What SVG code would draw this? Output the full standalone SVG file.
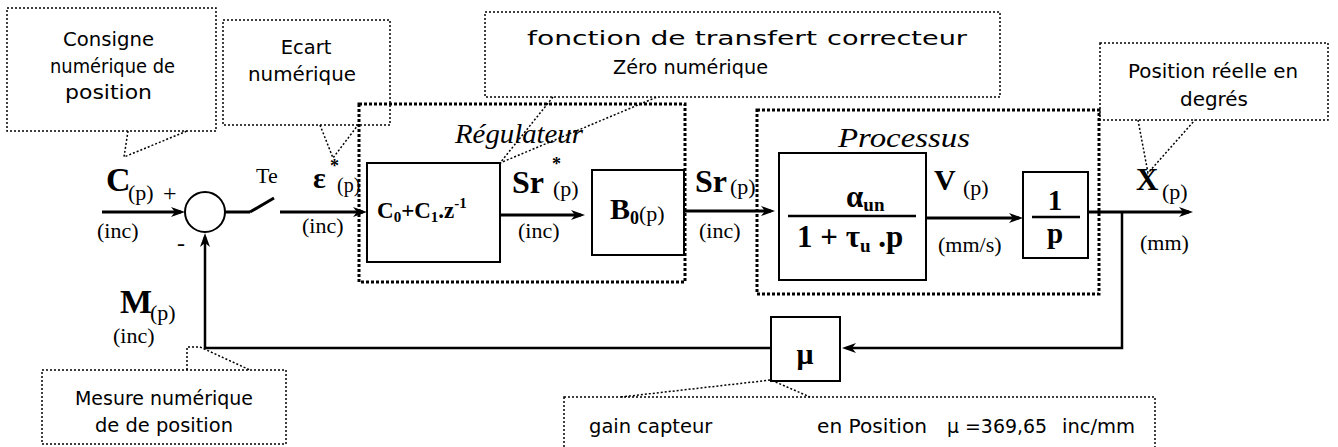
<svg xmlns="http://www.w3.org/2000/svg" width="1338" height="447" viewBox="0 0 1338 447">
<style>
.cb{fill:none;stroke:#000;stroke-width:1.5;stroke-dasharray:2 2}
.grp{fill:none;stroke:#000;stroke-width:3;stroke-dasharray:3 2}
.blk{fill:#fff;stroke:#000;stroke-width:2}
.ln{fill:none;stroke:#000;stroke-width:3}
.fb{fill:none;stroke:#000;stroke-width:2.5}
.ct{font-family:"DejaVu Sans",sans-serif;font-size:19.5px;fill:#000}
.t{font-family:"Liberation Serif",serif;fill:#000}
.b{font-weight:bold}
.i{font-style:italic}
</style>
<defs>
<marker id="ah" viewBox="0 0 14 10" refX="10" refY="5" markerWidth="14" markerHeight="10" markerUnits="userSpaceOnUse" orient="auto">
<path d="M0,0 L14,5 L0,10 L4,5 Z" fill="#000"/>
</marker>
</defs>

<g id="regulateur-group">
<rect class="grp" x="359" y="104" width="326" height="178"/>
<text class="t i" x="455" y="143" font-size="27" textLength="128" lengthAdjust="spacingAndGlyphs">Régulateur</text>
</g>
<g id="processus-group">
<rect class="grp" x="757" y="110" width="342" height="184"/>
<text class="t i" x="838" y="147" font-size="27" textLength="132" lengthAdjust="spacingAndGlyphs">Processus</text>
</g>

<g id="connectors">
<line class="ln" x1="102" y1="212" x2="181" y2="212" marker-end="url(#ah)"/>
<line class="ln" x1="225" y1="212" x2="250" y2="212"/>
<line class="ln" x1="250" y1="212" x2="274" y2="198"/>
<line class="ln" x1="280" y1="212" x2="363" y2="212" marker-end="url(#ah)"/>
<line class="ln" x1="500" y1="215" x2="581" y2="215" marker-end="url(#ah)"/>
<line class="ln" x1="684" y1="211" x2="771" y2="211" marker-end="url(#ah)"/>
<line class="ln" x1="926" y1="218" x2="1019" y2="218" marker-end="url(#ah)"/>
<line class="ln" x1="1088" y1="212" x2="1189" y2="212" marker-end="url(#ah)"/>
<polyline class="fb" points="1122,212 1122,348 846,348" marker-end="url(#ah)"/>
<polyline class="fb" points="771,348 205,348 205,237" marker-end="url(#ah)"/>
</g>

<g id="sum">
<circle cx="205" cy="212" r="20" fill="#fff" stroke="#000" stroke-width="2"/>
<text class="t" x="163" y="201" font-size="24">+</text>
<text class="t" x="177" y="251" font-size="24">-</text>
</g>

<g id="labels">
<text class="t b" x="106" y="191" font-size="34">C</text>
<text class="t" x="128" y="200" font-size="22">(p)</text>
<text class="t" x="97" y="238" font-size="22">(inc)</text>
<text class="t" x="256" y="183" font-size="22">Te</text>
<text class="t b" x="313" y="188" font-size="30">ε</text>
<text class="t b" x="330" y="172" font-size="18">*</text>
<text class="t" x="337" y="192" font-size="20">(p)</text>
<text class="t" x="302" y="233" font-size="22">(inc)</text>
<text class="t b" x="512" y="193" font-size="32">Sr</text>
<text class="t b" x="552" y="170" font-size="18">*</text>
<text class="t" x="553" y="196" font-size="22">(p)</text>
<text class="t" x="518" y="238" font-size="22">(inc)</text>
<text class="t b" x="695" y="192" font-size="32">Sr</text>
<text class="t" x="730" y="194" font-size="22">(p)</text>
<text class="t" x="699" y="238" font-size="22">(inc)</text>
<text class="t b" x="934" y="190" font-size="30">V</text>
<text class="t" x="963" y="195" font-size="22">(p)</text>
<text class="t" x="938" y="252" font-size="22">(mm/s)</text>
<text class="t b" x="1136" y="190" font-size="31">X</text>
<text class="t" x="1162" y="199" font-size="22">(p)</text>
<text class="t" x="1140" y="250" font-size="22">(mm)</text>
<text class="t b" x="120" y="313" font-size="34">M</text>
<text class="t" x="150" y="320" font-size="22">(p)</text>
<text class="t" x="113" y="343" font-size="22">(inc)</text>
</g>

<g id="correcteur">
<rect class="blk" x="367" y="163" width="133" height="99"/>
<text class="t b" x="377" y="218" font-size="23">C<tspan font-size="15" dy="4">0</tspan><tspan dy="-4">+C</tspan><tspan font-size="15" dy="4">1</tspan><tspan dy="-4">.z</tspan><tspan font-size="15" dy="-10">-1</tspan></text>
</g>

<g id="bloqueur">
<rect class="blk" x="592" y="170" width="92" height="85"/>
<text class="t b" x="610" y="219" font-size="30">B<tspan font-size="18" dy="5">0</tspan><tspan font-weight="normal" font-size="22" dy="-3">(p)</tspan></text>
</g>

<g id="moteur">
<rect class="blk" x="779" y="153" width="147" height="127"/>
<line x1="788" y1="216" x2="916" y2="216" stroke="#000" stroke-width="2.5"/>
<text class="t b" x="846" y="207" font-size="31">α<tspan font-size="19" dy="4">un</tspan></text>
<text class="t b" x="797" y="247" font-size="31">1 + τ<tspan font-size="19" dy="5">u</tspan><tspan dy="-5"> .p</tspan></text>
</g>

<g id="integrateur">
<rect class="blk" x="1023" y="172" width="65" height="86"/>
<line x1="1032" y1="217" x2="1080" y2="217" stroke="#000" stroke-width="2.5"/>
<text class="t b" x="1055" y="210" font-size="29" text-anchor="middle">1</text>
<text class="t b" x="1055" y="243" font-size="29" text-anchor="middle">p</text>
</g>

<g id="capteur">
<rect class="blk" x="771" y="317" width="69" height="64"/>
<text class="t b" x="805" y="364" font-size="30" text-anchor="middle">μ</text>
</g>

<g id="callout-consigne">
<rect class="cb" x="7" y="8" width="209" height="123"/>
<polyline class="cb" points="128,131 124,157 187,131"/>
<text class="ct" x="63" y="46" textLength="91" lengthAdjust="spacingAndGlyphs">Consigne</text>
<text class="ct" x="50" y="73" textLength="125" lengthAdjust="spacingAndGlyphs">numérique de</text>
<text class="ct" x="65" y="99" textLength="87" lengthAdjust="spacingAndGlyphs">position</text>
</g>

<g id="callout-ecart">
<rect class="cb" x="223" y="20" width="167" height="105"/>
<polyline class="cb" points="320,125 333,158 358,125"/>
<text class="ct" x="306" y="54" text-anchor="middle">Ecart</text>
<text class="ct" x="248" y="81" textLength="108" lengthAdjust="spacingAndGlyphs">numérique</text>
</g>

<g id="callout-correcteur">
<rect class="cb" x="485" y="12" width="515" height="85"/>
<polyline class="cb" points="553,97 500,163 657,97"/>
<text class="ct" x="527" y="45" textLength="290" lengthAdjust="spacingAndGlyphs">fonction de transfert</text>
<text class="ct" x="827" y="45" textLength="140" lengthAdjust="spacingAndGlyphs">correcteur</text>
<text class="ct" x="613" y="74" textLength="155" lengthAdjust="spacingAndGlyphs">Zéro numérique</text>
</g>

<g id="callout-position">
<rect class="cb" x="1100" y="43" width="228" height="77"/>
<polyline class="cb" points="1138,120 1148,173 1195,120"/>
<text class="ct" x="1128" y="78" textLength="170" lengthAdjust="spacingAndGlyphs">Position réelle en</text>
<text class="ct" x="1180" y="106" textLength="68" lengthAdjust="spacingAndGlyphs">degrés</text>
</g>

<g id="callout-mesure">
<rect class="cb" x="42" y="370" width="244" height="74"/>
<polyline class="cb" points="187,370 187,347 200,347 250,370"/>
<text class="ct" x="75" y="405" textLength="178" lengthAdjust="spacingAndGlyphs">Mesure numérique</text>
<text class="ct" x="95" y="432" textLength="138" lengthAdjust="spacingAndGlyphs">de de position</text>
</g>

<g id="callout-gain">
<rect class="cb" x="564" y="397" width="591" height="70"/>
<polyline class="cb" points="621,397 771,380 810,397"/>
<text class="ct" x="589" y="433">gain capteur</text>
<text class="ct" x="817" y="433" textLength="110" lengthAdjust="spacingAndGlyphs">en Position</text>
<text class="ct" x="947" y="433" textLength="100" lengthAdjust="spacingAndGlyphs">μ =369,65</text>
<text class="ct" x="1062" y="433">inc/mm</text>
</g>
</svg>
